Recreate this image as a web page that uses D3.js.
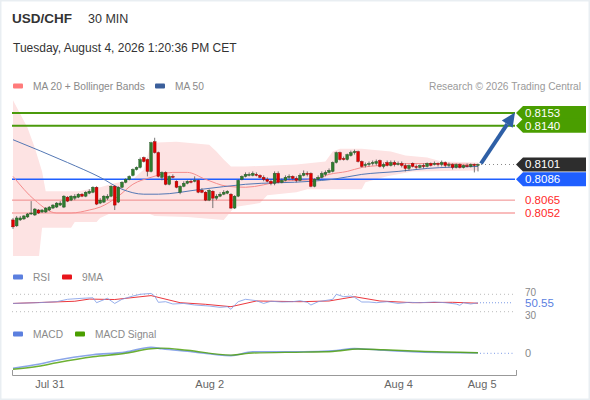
<!DOCTYPE html>
<html lang="en">
<head>
<meta charset="UTF-8">
<title>USD/CHF 30 MIN</title>
<script src="https://d3js.org/d3.v7.min.js"></script>
<style>
  body { margin: 0; background: #fff; font-family: 'Liberation Sans', Arial, sans-serif; }
  svg { display: block; }
</style>
</head>
<body>
<div id="chart"></div>
<script>
// candles, 30 min, index 0..128
const opens = [0.8045,0.8039,0.8045,0.8046,0.8048,0.8051,0.8050,0.8055,0.8053,0.8053,
  0.8055,0.8057,0.8058,0.8060,0.8058,0.8068,0.8065,0.8067,0.8068,0.8071,
  0.8069,0.8072,0.8073,0.8078,0.8062,0.8063,0.8067,0.8069,0.8079,0.8063,
  0.8078,0.8083,0.8086,0.8090,0.8096,0.8098,0.8108,0.8106,0.8094,0.8124,
  0.8113,0.8088,0.8093,0.8081,0.8089,0.8084,0.8073,0.8079,0.8082,0.8084,
  0.8084,0.8085,0.8075,0.8073,0.8065,0.8074,0.8067,0.8069,0.8071,0.8072,
  0.8071,0.8057,0.8069,0.8086,0.8089,0.8090,0.8090,0.8091,0.8090,0.8088,
  0.8086,0.8084,0.8082,0.8092,0.8083,0.8085,0.8088,0.8089,0.8087,0.8085,
  0.8090,0.8092,0.8092,0.8079,0.8086,0.8088,0.8091,0.8093,0.8094,0.8103,
  0.8113,0.8107,0.8106,0.8110,0.8113,0.8114,0.8104,0.8100,0.8101,0.8102,
  0.8102,0.8105,0.8099,0.8103,0.8100,0.8103,0.8101,0.8102,0.8100,0.8097,
  0.8102,0.8099,0.8098,0.8100,0.8099,0.8102,0.8101,0.8102,0.8101,0.8103,
  0.8100,0.8101,0.8098,0.8101,0.8098,0.8100,0.8099,0.8101,0.8100];
const highs = [0.8047,0.8049,0.8049,0.8050,0.8052,0.8064,0.8057,0.8056,0.8056,0.8058,
  0.8059,0.8061,0.8063,0.8064,0.8070,0.8069,0.8070,0.8071,0.8072,0.8072,
  0.8074,0.8076,0.8079,0.8079,0.8067,0.8070,0.8071,0.8080,0.8080,0.8079,
  0.8084,0.8087,0.8090,0.8097,0.8099,0.8108,0.8109,0.8107,0.8124,0.8128,
  0.8114,0.8094,0.8094,0.8090,0.8091,0.8085,0.8080,0.8084,0.8085,0.8086,
  0.8089,0.8086,0.8077,0.8074,0.8076,0.8075,0.8071,0.8073,0.8075,0.8075,
  0.8072,0.8070,0.8086,0.8090,0.8093,0.8093,0.8094,0.8093,0.8091,0.8090,
  0.8088,0.8086,0.8094,0.8094,0.8087,0.8090,0.8091,0.8090,0.8089,0.8092,
  0.8095,0.8094,0.8093,0.8087,0.8090,0.8094,0.8095,0.8097,0.8104,0.8114,
  0.8114,0.8109,0.8112,0.8115,0.8116,0.8115,0.8105,0.8103,0.8104,0.8105,
  0.8106,0.8106,0.8103,0.8105,0.8105,0.8105,0.8104,0.8104,0.8102,0.8101,
  0.8103,0.8101,0.8101,0.8102,0.8103,0.8103,0.8104,0.8103,0.8105,0.8104,
  0.8103,0.8102,0.8102,0.8102,0.8101,0.8102,0.8102,0.8102,0.8102];
const lows = [0.8036,0.8038,0.8044,0.8045,0.8047,0.8050,0.8049,0.8051,0.8052,0.8052,
  0.8054,0.8056,0.8057,0.8059,0.8057,0.8063,0.8064,0.8065,0.8067,0.8068,
  0.8068,0.8071,0.8072,0.8060,0.8061,0.8062,0.8065,0.8068,0.8055,0.8062,
  0.8077,0.8082,0.8085,0.8089,0.8095,0.8097,0.8103,0.8089,0.8093,0.8112,
  0.8088,0.8085,0.8080,0.8080,0.8087,0.8077,0.8071,0.8078,0.8081,0.8082,
  0.8083,0.8072,0.8072,0.8064,0.8064,0.8057,0.8065,0.8068,0.8070,0.8071,
  0.8056,0.8056,0.8068,0.8085,0.8088,0.8089,0.8089,0.8089,0.8087,0.8084,
  0.8083,0.8080,0.8080,0.8082,0.8082,0.8084,0.8085,0.8085,0.8083,0.8084,
  0.8089,0.8089,0.8078,0.8078,0.8085,0.8087,0.8089,0.8092,0.8093,0.8102,
  0.8105,0.8105,0.8105,0.8109,0.8111,0.8103,0.8098,0.8098,0.8099,0.8100,
  0.8100,0.8098,0.8097,0.8099,0.8099,0.8099,0.8100,0.8098,0.8094,0.8095,
  0.8098,0.8096,0.8097,0.8097,0.8098,0.8099,0.8100,0.8099,0.8099,0.8098,
  0.8098,0.8096,0.8097,0.8097,0.8097,0.8098,0.8098,0.8093,0.8094];
const closes = [0.8038,0.8047,0.8047,0.8049,0.8051,0.8052,0.8056,0.8052,0.8055,0.8057,
  0.8058,0.8060,0.8062,0.8062,0.8069,0.8064,0.8069,0.8069,0.8071,0.8069,
  0.8073,0.8074,0.8078,0.8061,0.8065,0.8069,0.8069,0.8079,0.8060,0.8078,
  0.8083,0.8086,0.8089,0.8096,0.8098,0.8106,0.8104,0.8094,0.8123,0.8113,
  0.8089,0.8093,0.8081,0.8089,0.8088,0.8078,0.8079,0.8082,0.8084,0.8083,
  0.8085,0.8073,0.8073,0.8065,0.8075,0.8067,0.8069,0.8071,0.8073,0.8074,
  0.8057,0.8069,0.8085,0.8089,0.8091,0.8091,0.8092,0.8090,0.8088,0.8086,
  0.8084,0.8082,0.8092,0.8083,0.8085,0.8088,0.8089,0.8087,0.8085,0.8090,
  0.8092,0.8091,0.8079,0.8086,0.8088,0.8092,0.8093,0.8095,0.8103,0.8113,
  0.8106,0.8106,0.8111,0.8113,0.8114,0.8104,0.8099,0.8101,0.8102,0.8103,
  0.8104,0.8099,0.8101,0.8100,0.8103,0.8101,0.8102,0.8100,0.8097,0.8100,
  0.8099,0.8098,0.8100,0.8099,0.8102,0.8100,0.8102,0.8101,0.8103,0.8100,
  0.8101,0.8098,0.8101,0.8098,0.8100,0.8099,0.8101,0.8100,0.8101];

// moving averages / bands read at candle indices
const ma50Idx = [0,15,24,30,36,40,52,64,82,88,96,106,114,128];
const ma50Vals = [0.8126,0.8103,0.8088,0.8076,0.8071,0.8071,0.8076,0.8081,0.8084,0.8086,0.8091,0.8094,0.8097,0.8099];
const ma20Idx = [0,6,12,16,21,24,29,33,38,44,48,53,59,64,74,83,87,92,96,101,110,128];
const ma20Vals = [0.8089,0.8065,0.8052,0.8052,0.8055,0.8058,0.8069,0.8081,0.8088,0.8093,0.8093,0.8086,0.8079,0.8078,0.8084,0.8086,0.8091,0.8094,0.8098,0.8100,0.8102,0.8101];
const bbUpIdx = [0,4,6,8,9,18,24,28,33,36,38,45,54,56,58,60,64,78,86,88,90,96,104,108,114,118,128];
const bbUpVals = [0.8166,0.8138,0.8118,0.8094,0.8074,0.8074,0.8078,0.8082,0.8086,0.8096,0.8123,0.8124,0.8121,0.8114,0.8106,0.8099,0.8099,0.8101,0.8104,0.8114,0.8117,0.8117,0.8114,0.8110,0.8108,0.8104,0.8103];
const bbLoIdx = [0,7,8,16,17,23,24,27,37,39,48,58,61,68,70,78,81,96,97,103,110,128];
const bbLoVals = [0.8003,0.8003,0.8037,0.8037,0.8043,0.8043,0.8047,0.8052,0.8052,0.8049,0.8048,0.8045,0.8058,0.8062,0.8070,0.8073,0.8076,0.8076,0.8083,0.8089,0.8094,0.8095];

// RSI panel
const rsiIdx = [0,7,12,15,19,22,23,26,28,30,33,35,38,39,40,42,44,47,50,54,57,59,60,61,62,64,67,69,71,74,77,79,81,82,84,88,89,91,93,94,96,98,100,103,106,109,112,116,119,122,123,124,126,128];
const rsiVals = [49,50.7,53,58.5,60.8,62,50.7,60.8,49,58.5,66,70,72,66,51.6,53,47.7,49,45.4,43,40,41.5,35.5,45,53,58.5,55.3,49,54,52.3,53,55.3,51.6,45.4,53,58.5,70,64.5,66,63,52.3,52.3,50.7,53,49,51.6,50.7,52.3,50.7,47.7,44.7,50.7,47.7,50.55];
const rsiMaIdx = [0,17,21,28,38,46,53,60,67,79,87,94,101,110,121,128];
const rsiMaVals = [49,54,59,58,67,50.7,47,41.5,54.6,53,54.6,64.5,54.6,50.7,51.6,49.5];

// MACD panel
const macdIdx = [0,7,12,22,31,38,41,48,60,66,80,88,94,100,110,128];
const macdVals = [-0.00150,-0.00110,-0.00070,-0.00015,0.00012,0.00060,0.00045,0.00020,-0.00023,0.00015,0.00015,0.00025,0.00047,0.00035,0.00015,0.00003];
const sigIdx = [0,7,12,22,31,38,41,48,60,66,80,88,95,102,112,128];
const sigVals = [-0.00160,-0.00130,-0.00095,-0.00035,0.00000,0.00045,0.00052,0.00030,-0.00018,0.00003,0.00012,0.00018,0.00043,0.00035,0.00020,0.00006];

// levels and time ticks
const resistLevels = [0.8153, 0.8140];
const lastPrice = 0.8101;
const pivot = 0.8086;
const supportLevels = [0.8065, 0.8052];
const tickIdx = [10, 54, 106, 129];
const tickLabels = ["Jul 31", "Aug 2", "Aug 4", "Aug 5"];

const W = 590, H = 400;
const svg = d3.select("#chart").append("svg").attr("width", W).attr("height", H);

svg.append("rect").attr("width", W).attr("height", H).attr("fill", "#e9eef2");
svg.append("rect").attr("x", 1.5).attr("y", 1.5).attr("width", W - 3).attr("height", H - 3).attr("fill", "#fff");

const x = d3.scaleLinear().domain([0, 128]).range([13, 478]);
const y = d3.scaleLinear().domain([0.8052, 0.8153]).range([213, 113]);
const yRsi = d3.scaleLinear().domain([30, 70]).range([311.7, 294.3]);
const yMacd = d3.scaleLinear().domain([0, 0.001]).range([353.3, 343.3]);
const xLeft = 12, xRight = 513;

// header
svg.append("text").attr("x", 12).attr("y", 23).attr("font-size", 13.5).attr("font-weight", "bold")
  .attr("fill", "#333").text("USD/CHF");
svg.append("text").attr("x", 88).attr("y", 22.5).attr("font-size", 12.5).attr("fill", "#333").text("30 MIN");
svg.append("text").attr("x", 13).attr("y", 52).attr("font-size", 12).attr("fill", "#333")
  .text("Tuesday, August 4, 2026 1:20:36 PM CET");

function legend(items, ly) {
  items.forEach(it => {
    svg.append("rect").attr("x", it.x).attr("y", ly - 2.5).attr("width", 10).attr("height", 5)
      .attr("rx", 1).attr("fill", it.color);
    svg.append("text").attr("x", it.x + 20).attr("y", ly + 3.5).attr("font-size", 10.2)
      .attr("fill", "#8a8a8a").text(it.label);
  });
}
legend([{x: 13, color: "#ff7b7b", label: "MA 20 + Bollinger Bands"},
        {x: 155, color: "#3b5f9b", label: "MA 50"}], 86);
svg.append("text").attr("x", 581).attr("y", 89.5).attr("font-size", 10.2).attr("fill", "#9a9a9a")
  .attr("text-anchor", "end").text("Research \u00a9 2026 Trading Central");

// price panel
svg.append("clipPath").attr("id", "pclip").append("rect")
  .attr("x", 10).attr("y", 99).attr("width", 505).attr("height", 157);
const plot = svg.append("g").attr("clip-path", "url(#pclip)");

const keyLine = d3.line().x(d => x(d[0])).y(d => y(d[1]));
const upPts = bbUpIdx.map((d, i) => [d, bbUpVals[i]]);
const loPts = bbLoIdx.map((d, i) => [d, bbLoVals[i]]).reverse();
plot.append("path").attr("d", keyLine(upPts.concat(loPts)) + "Z").attr("fill", "#fde3e3");

// levels
plot.selectAll(".res").data(resistLevels).join("line")
  .attr("x1", xLeft).attr("x2", 516).attr("y1", d => y(d)).attr("y2", d => y(d))
  .attr("stroke", "#4b9a0c").attr("stroke-width", 2);
plot.append("line").attr("x1", xLeft).attr("x2", 516).attr("y1", y(pivot)).attr("y2", y(pivot))
  .attr("stroke", "#1f5fff").attr("stroke-width", 1.5);
plot.selectAll(".sup").data(supportLevels).join("line")
  .attr("x1", xLeft).attr("x2", 516).attr("y1", d => y(d)).attr("y2", d => y(d))
  .attr("stroke", (d, i) => i === 0 ? "#f08a8a" : "#f9bcbc").attr("stroke-width", (d, i) => i === 0 ? 1 : 2);

const smooth = d3.line().x(d => x(d[0])).y(d => y(d[1])).curve(d3.curveMonotoneX);
plot.append("path").attr("d", smooth(ma20Idx.map((d, i) => [d, ma20Vals[i]])))
  .attr("fill", "none").attr("stroke", "#f58c8c").attr("stroke-width", 1);
plot.append("path").attr("d", smooth(ma50Idx.map((d, i) => [d, ma50Vals[i]])))
  .attr("fill", "none").attr("stroke", "#5478b5").attr("stroke-width", 1);

// candles
const candles = closes.map((c, i) => ({i, o: opens[i], h: highs[i], l: lows[i], c}));
const cg = plot.selectAll(".candle").data(candles).join("g");
cg.append("line").attr("x1", d => x(d.i)).attr("x2", d => x(d.i))
  .attr("y1", d => y(d.h)).attr("y2", d => y(d.l)).attr("stroke", "#555").attr("stroke-width", 0.8);
cg.append("rect").attr("x", d => x(d.i) - 1.4).attr("width", 2.8)
  .attr("y", d => y(Math.max(d.o, d.c)))
  .attr("height", d => Math.max(1, Math.abs(y(d.o) - y(d.c))))
  .attr("fill", d => d.c >= d.o ? "#2f7d2f" : "#e00000")
  .attr("stroke", d => d.c >= d.o ? "#1f4f1f" : "#8a0000").attr("stroke-width", 0.4);

// dotted from last candle
svg.append("line").attr("x1", x(128) + 3).attr("x2", 514).attr("y1", y(lastPrice)).attr("y2", y(lastPrice))
  .attr("stroke", "#888").attr("stroke-width", 1).attr("stroke-dasharray", "1,3");

// forecast arrow
const ax0 = x(128) + 3, ay0 = y(lastPrice) - 1, ax1 = 515, ay1 = y(resistLevels[0]) - 0.5;
const ang = Math.atan2(ay1 - ay0, ax1 - ax0);
const hl = 14, hw = 6.5;
const bx = ax1 - hl * Math.cos(ang), by = ay1 - hl * Math.sin(ang);
svg.append("line").attr("x1", ax0).attr("y1", ay0).attr("x2", bx).attr("y2", by)
  .attr("stroke", "#2e5fa6").attr("stroke-width", 4);
svg.append("path").attr("fill", "#2e5fa6")
  .attr("d", `M${ax1},${ay1}L${bx + hw * Math.sin(ang)},${by - hw * Math.cos(ang)}L${bx - hw * Math.sin(ang)},${by + hw * Math.cos(ang)}Z`);

// price tags
function tag(v, color, txtColor) {
  const cy = y(v);
  svg.append("path").attr("fill", color)
    .attr("d", `M516,${cy}L523,${cy - 7}L586,${cy - 7}L586,${cy + 7}L523,${cy + 7}Z`);
  svg.append("text").attr("x", 525).attr("y", cy + 4).attr("font-size", 11.5)
    .attr("fill", txtColor).text(v.toFixed(4));
}
resistLevels.forEach(v => tag(v, "#4a9e00", "#fff"));
tag(lastPrice, "#2d2d2d", "#fff");
tag(pivot, "#1f5fff", "#fff");
supportLevels.forEach(v => {
  svg.append("text").attr("x", 525).attr("y", y(v) + 4).attr("font-size", 11.5)
    .attr("fill", "#ff2a2a").text(v.toFixed(4));
});

// RSI panel
legend([{x: 13, color: "#5b7fdf", label: "RSI"}, {x: 62, color: "#e8141b", label: "9MA"}], 277);
[70, 30].forEach(v => {
  svg.append("line").attr("x1", xLeft).attr("x2", xRight).attr("y1", yRsi(v)).attr("y2", yRsi(v))
    .attr("stroke", "#aaa").attr("stroke-width", 0.8).attr("stroke-dasharray", "1,3");
  svg.append("text").attr("x", 525).attr("y", v === 70 ? 296 : 318.5).attr("font-size", 10)
    .attr("fill", "#888").text(v);
});
const rsiLine = d3.line().x(d => x(d[0])).y(d => yRsi(d[1]));
svg.append("path").attr("d", rsiLine(rsiMaIdx.map((d, i) => [d, rsiMaVals[i]])))
  .attr("fill", "none").attr("stroke", "#e8141b").attr("stroke-width", 1).attr("opacity", 0.85);
svg.append("path").attr("d", rsiLine(rsiIdx.map((d, i) => [d, rsiVals[i]])))
  .attr("fill", "none").attr("stroke", "#7d9be6").attr("stroke-width", 0.9).attr("opacity", 0.9);
const rsiLast = rsiVals[rsiVals.length - 1];
svg.append("line").attr("x1", x(128) + 2).attr("x2", xRight).attr("y1", yRsi(rsiLast)).attr("y2", yRsi(rsiLast))
  .attr("stroke", "#7d9be6").attr("stroke-dasharray", "1,2");
svg.append("text").attr("x", 525).attr("y", 307.3).attr("font-size", 11.5)
  .attr("fill", "#5b7fdf").text(rsiLast.toFixed(2));

// MACD panel
legend([{x: 13, color: "#5b7fdf", label: "MACD"}, {x: 75, color: "#4a9e00", label: "MACD Signal"}], 334);
const macdLine = d3.line().x(d => x(d[0])).y(d => yMacd(d[1])).curve(d3.curveMonotoneX);
svg.append("path").attr("d", macdLine(macdIdx.map((d, i) => [d, macdVals[i]])))
  .attr("fill", "none").attr("stroke", "#7d9be6").attr("stroke-width", 1.6).attr("opacity", 0.9);
svg.append("path").attr("d", macdLine(sigIdx.map((d, i) => [d, sigVals[i]])))
  .attr("fill", "none").attr("stroke", "#4a9e00").attr("stroke-width", 1.4).attr("opacity", 0.8);
svg.append("line").attr("x1", x(128) + 2).attr("x2", xRight).attr("y1", yMacd(0)).attr("y2", yMacd(0))
  .attr("stroke", "#7d9be6").attr("stroke-dasharray", "1,2.5");
svg.append("text").attr("x", 525).attr("y", yMacd(0) + 4).attr("font-size", 11).attr("fill", "#888").text("0");

// time axis
const xa = x.copy().domain([x.invert(xLeft), x.invert(516)]).range([xLeft, 516]);
const axis = d3.axisBottom(xa).tickValues(tickIdx).tickFormat((d, i) => tickLabels[i])
  .tickSizeInner(0).tickSizeOuter(-5).tickPadding(5);
const ag = svg.append("g").attr("transform", "translate(0,375)").call(axis);
ag.select(".domain").attr("stroke", "#999");
ag.selectAll("text").attr("font-size", 11).attr("fill", "#666")
  .attr("font-family", "'Liberation Sans', Arial, sans-serif");
</script>
</body>
</html>
